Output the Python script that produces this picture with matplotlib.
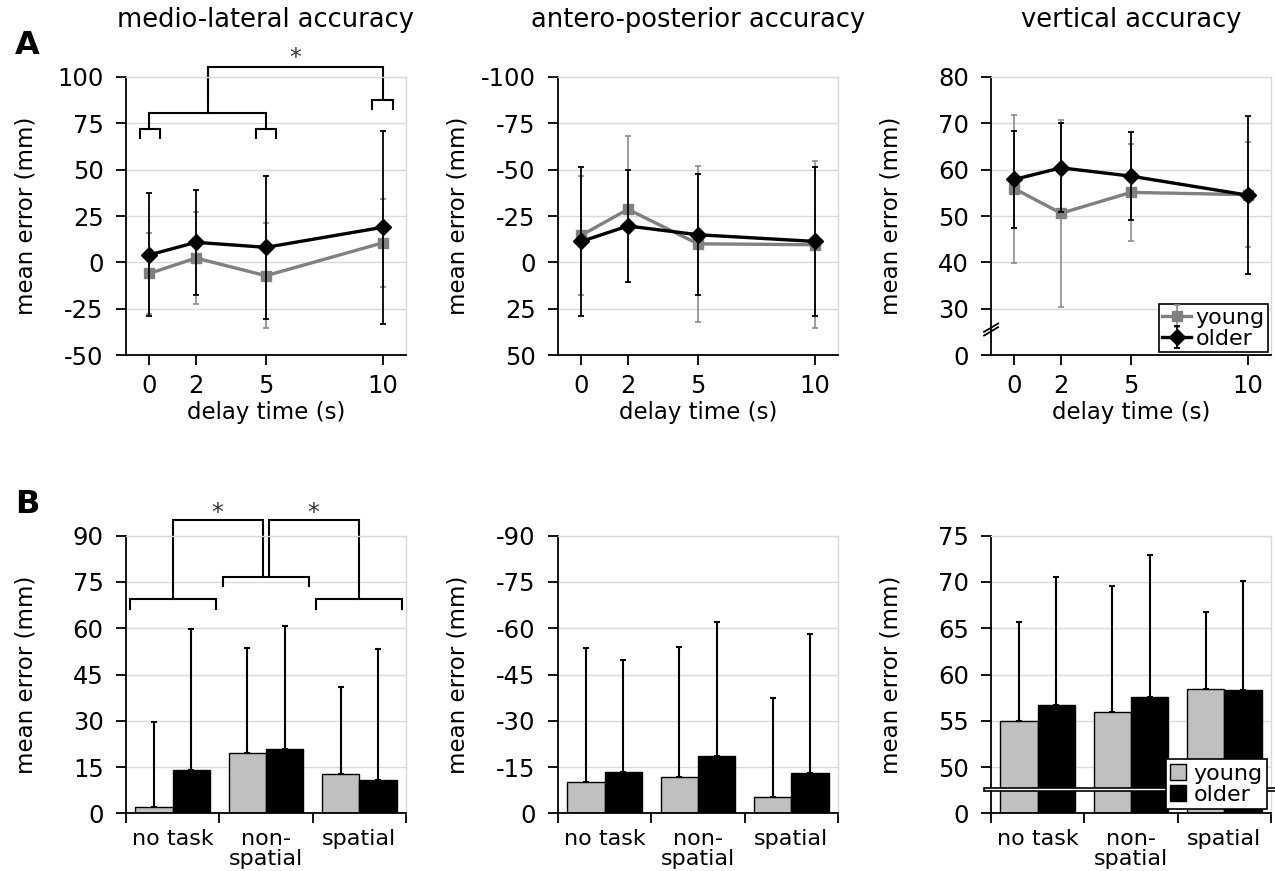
import numpy as np
import matplotlib.pyplot as plt
import matplotlib.transforms as mtransforms
from matplotlib.patches import Rectangle

plt.rcParams['font.family'] = ['DejaVu Sans']
plt.rcParams['axes.unicode_minus'] = False
FS = 16
TICK_FS = 17.5

# ---- data (A: line plots over delay time) ----
delay = [0, 2, 5, 10]
ml_young = [-6.0, 2.3, -7.2, 10.5]
ml_young_sd = [22.0, 24.7, 28.3, 23.7]
ml_older = [4.0, 10.8, 8.1, 18.9]
ml_older_sd = [33.2, 28.5, 38.4, 52.1]

ap_young = [-14.6, -28.6, -10.0, -9.5]
ap_young_sd = [32.2, 39.4, 42.1, 45.0]
ap_older = [-11.3, -19.6, -14.9, -11.3]
ap_older_sd = [40.4, 30.1, 32.5, 40.1]

vt_young = [55.9, 50.6, 55.1, 54.6]
vt_young_sd = [16.0, 20.2, 10.4, 11.3]
vt_older = [57.9, 60.4, 58.6, 54.5]
vt_older_sd = [10.4, 9.6, 9.5, 17.1]

# ---- data (B: bars per task condition) ----
conditions = ['no task', 'non-\nspatial', 'spatial']
ml_bar_young = [1.95, 19.5, 12.9]
ml_bar_young_sd = [27.5, 34.2, 28.0]
ml_bar_older = [14.2, 20.9, 10.8]
ml_bar_older_sd = [45.7, 39.8, 42.6]

ap_bar_young = [-10.2, -11.9, -5.2]
ap_bar_young_sd = [43.5, 41.9, 32.3]
ap_bar_older = [-13.5, -18.6, -13.1]
ap_bar_older_sd = [36.2, 43.5, 45.0]

vt_bar_young = [55.0, 56.0, 58.4]
vt_bar_young_sd = [10.7, 13.6, 8.4]
vt_bar_older = [56.7, 57.6, 58.3]
vt_bar_older_sd = [13.8, 15.3, 11.8]

titles = ['medio-lateral accuracy', 'antero-posterior accuracy', 'vertical accuracy']

GRAY_LINE = '#808080'
GRAY_ERR = '#8c8c8c'
GRAY_BAR = '#c0c0c0'
GRID = '#d9d9d9'
STAR = '#333344'

fig = plt.figure(figsize=(12.75, 8.71), dpi=100)
lefts = [0.0988, 0.4376, 0.7773]
W = 0.2196
top_row = [fig.add_axes([l, 0.5924, W, 0.3192]) for l in lefts]
bot_row = [fig.add_axes([l, 0.0662, W, 0.3188]) for l in lefts]


def style(ax):
    ax.grid(axis='y', color=GRID, lw=1)
    ax.set_axisbelow(True)
    for s in ['top', 'right']:
        ax.spines[s].set_color(GRID)
        ax.spines[s].set_linewidth(1)
    for s in ['left', 'bottom']:
        ax.spines[s].set_linewidth(1.3)
    ax.tick_params(axis='y', direction='out', length=7, width=1.3, labelsize=TICK_FS, pad=9)
    ax.tick_params(axis='x', direction='out', length=7, width=1.3, labelsize=TICK_FS, pad=7)
    ax.set_ylabel('mean error (mm)', fontsize=16.5)
    ax.yaxis.set_label_coords(-0.315, 0.5)


def line_panel(ax, y_young, sd_young, y_older, sd_older):
    style(ax)
    ax.errorbar(delay, y_young, yerr=sd_young, color=GRAY_LINE, ecolor=GRAY_ERR,
                elinewidth=1.2, capsize=2, capthick=1.2, lw=2.4, marker='s',
                ms=7, label='young', zorder=3)
    ax.errorbar(delay, y_older, yerr=sd_older, color='black', ecolor='black',
                elinewidth=1.3, capsize=2, capthick=1.3, lw=2.4, marker='D',
                ms=8, label='older', zorder=4)
    ax.set_xlim(-1, 11)
    ax.set_xticks(delay)
    ax.set_xlabel('delay time (s)', fontsize=16.5)
    ax.xaxis.set_label_coords(0.5, -0.165)


def bar_panel(ax, y_young, sd_young, y_older, sd_older, base=0):
    style(ax)
    x = np.arange(len(conditions))
    for vals, sds, off, col in [(y_young, sd_young, -0.2, GRAY_BAR),
                                (y_older, sd_older, 0.2, 'black')]:
        vals = np.array(vals)
        sds = np.array(sds)
        ax.bar(x + off, vals - base, bottom=base, width=0.4, color=col,
               edgecolor='black', lw=1, zorder=2)
        lower = np.where(vals < 0, sds, 0)
        upper = np.where(vals >= 0, sds, 0)
        ax.errorbar(x + off, vals, yerr=[lower, upper], fmt='none', ecolor='black',
                    elinewidth=1.5, capsize=2, capthick=1.5, zorder=3)
    ax.set_xlim(-0.5, 2.5)
    ax.set_xticks([-0.5, 0.5, 1.5, 2.5])
    ax.set_xticklabels([])
    ax.set_xticks(x, minor=True)
    ax.set_xticklabels(conditions, minor=True, fontsize=FS, linespacing=1.0)
    ax.tick_params(axis='x', which='minor', length=0, pad=11, labelsize=FS)


def bracket(ax, x0, x1, y, drop):
    ax.plot([x0, x0, x1, x1], [y - drop, y, y, y - drop], color='black', lw=1.5,
            clip_on=False, solid_joinstyle='miter')


# ---- row A ----
ax = top_row[0]
line_panel(ax, ml_young, ml_young_sd, ml_older, ml_older_sd)
ax.set_ylim(-50, 100)
ax.set_yticks(np.arange(-50, 101, 25))
bracket(ax, -0.41, 0.47, 71.9, 4.8)
bracket(ax, 4.56, 5.44, 71.9, 4.8)
bracket(ax, 0, 5, 80.6, 8.7)
bracket(ax, 9.55, 10.44, 87.4, 4.5)
bracket(ax, 2.5, 10, 105.5, 18.1)
ax.plot([2.5, 2.5], [80.6, 105.5], color='black', lw=1.5, clip_on=False)
ax.text(6.24, 110.0, '*', ha='center', va='center', fontsize=17, color=STAR)

ax = top_row[1]
line_panel(ax, ap_young, ap_young_sd, ap_older, ap_older_sd)
ax.set_ylim(50, -100)
ax.set_yticks(np.arange(-100, 51, 25))

ax = top_row[2]
line_panel(ax, vt_young, vt_young_sd, vt_older, vt_older_sd)
ax.set_ylim(20, 80)
ax.set_yticks([20, 30, 40, 50, 60, 70, 80])
ax.set_yticklabels(['0', '30', '40', '50', '60', '70', '80'])
ax.yaxis.get_gridlines()[0].set_visible(False)
tr = mtransforms.blended_transform_factory(ax.transAxes, ax.transData)
ax.plot([-0.025, 0.025], [24.2, 26.0], color='black', lw=1.3, transform=tr, clip_on=False)
ax.plot([-0.025, 0.025], [25.0, 26.8], color='black', lw=1.3, transform=tr, clip_on=False)
leg = ax.legend(loc='lower right', bbox_to_anchor=(0.99, 0.01), fontsize=FS,
                frameon=True, fancybox=False, framealpha=1, edgecolor='black',
                handlelength=1.3, handletextpad=0.2, labelspacing=0.05,
                borderpad=0.15, borderaxespad=0)
leg.get_frame().set_linewidth(1.2)

# ---- row B ----
ax = bot_row[0]
bar_panel(ax, ml_bar_young, ml_bar_young_sd, ml_bar_older, ml_bar_older_sd)
ax.set_ylim(0, 90)
ax.set_yticks(np.arange(0, 91, 15))
bracket(ax, -0.457, 0.464, 69.4, 3.1)
bracket(ax, 0.543, 1.464, 76.5, 2.9)
bracket(ax, 1.536, 2.46, 69.4, 3.1)
ax.plot([0, 0, 0.964, 0.964], [69.4, 95, 95, 76.5], color='black', lw=1.5,
        clip_on=False, solid_joinstyle='miter')
ax.plot([1.036, 1.036, 2, 2], [76.5, 95, 95, 69.4], color='black', lw=1.5,
        clip_on=False, solid_joinstyle='miter')
ax.text(0.479, 97.2, '*', ha='center', va='center', fontsize=17, color=STAR)
ax.text(1.507, 97.2, '*', ha='center', va='center', fontsize=17, color=STAR)

ax = bot_row[1]
bar_panel(ax, ap_bar_young, ap_bar_young_sd, ap_bar_older, ap_bar_older_sd)
ax.set_ylim(0, -90)
ax.set_yticks(np.arange(-90, 1, 15))

ax = bot_row[2]
VT_ZERO = 45
bar_panel(ax, vt_bar_young, vt_bar_young_sd, vt_bar_older, vt_bar_older_sd, base=VT_ZERO)
ax.set_ylim(VT_ZERO, 75)
ax.set_yticks([45, 50, 55, 60, 65, 70, 75])
ax.set_yticklabels(['0', '50', '55', '60', '65', '70', '75'])
ax.yaxis.get_gridlines()[0].set_visible(False)
tr = mtransforms.blended_transform_factory(ax.transAxes, ax.transData)
ax.add_patch(Rectangle((-0.025, 47.37), 1.05, 0.36, transform=tr, facecolor='white',
                       edgecolor='black', lw=1.2, clip_on=False, zorder=5))
handles = [Rectangle((0, 0), 1, 1, facecolor=GRAY_BAR, edgecolor='black', lw=1),
           Rectangle((0, 0), 1, 1, facecolor='black', edgecolor='black', lw=1)]
leg = ax.legend(handles, ['young', 'older'], loc='lower right',
                bbox_to_anchor=(0.985, 0.015), fontsize=FS, frameon=True,
                fancybox=False, framealpha=1, edgecolor='black',
                handlelength=0.7, handleheight=0.7, handletextpad=0.35,
                labelspacing=0.05, borderpad=0.2, borderaxespad=0)
leg.get_frame().set_linewidth(1.2)
leg.set_zorder(10)

# ---- titles and panel letters ----
for l, t in zip(lefts, titles):
    fig.text(l + W / 2, 0.977, t, ha='center', va='center', fontsize=18.5)
fig.text(0.012, 0.948, 'A', fontsize=23, fontweight='bold', va='center', ha='left')
fig.text(0.012, 0.421, 'B', fontsize=23, fontweight='bold', va='center', ha='left')

fig.savefig('out.png', dpi=100)
